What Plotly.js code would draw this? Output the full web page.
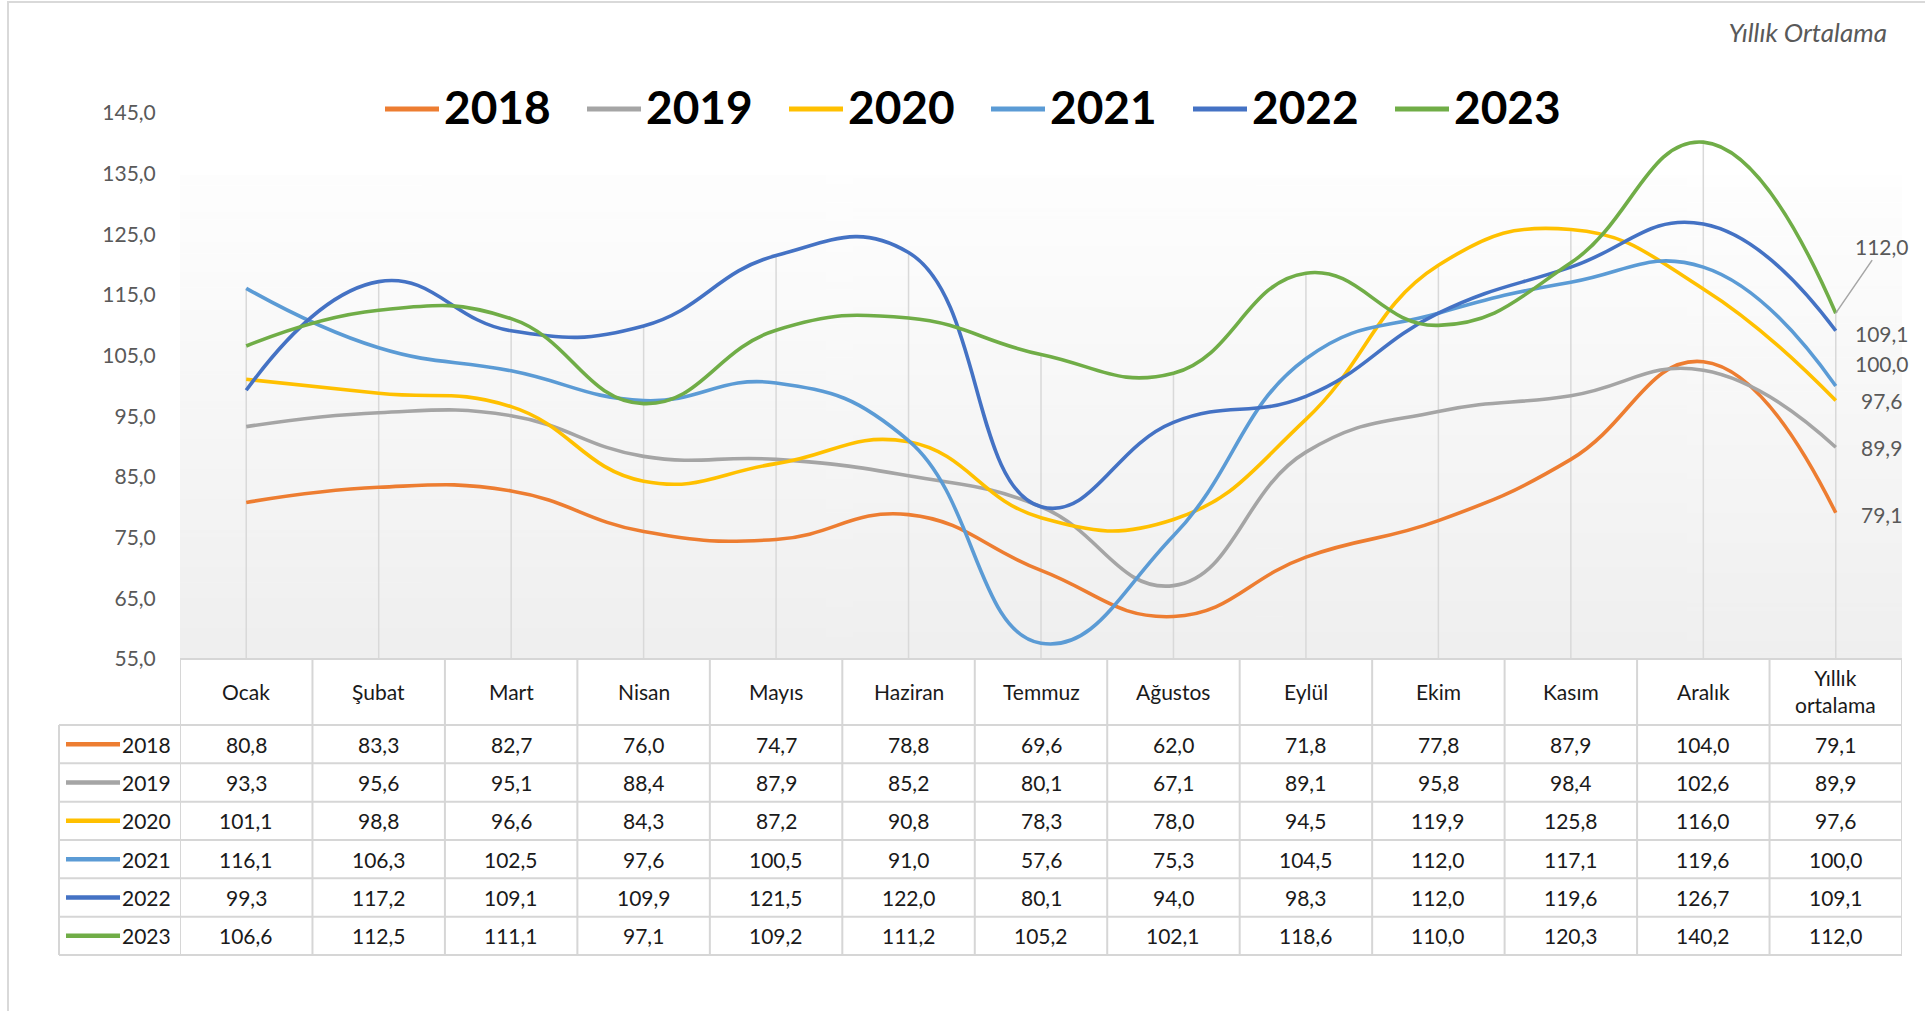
<!DOCTYPE html>
<html>
<head>
<meta charset="utf-8">
<script src="https://cdn.plot.ly/plotly-3.0.1.min.js"></script>
<style>
  html, body { margin: 0; padding: 0; background: #ffffff; }
  #chart { width: 1925px; height: 1011px; }
</style>
</head>
<body>
<div id="chart"></div>
<script>
// ---------------- DATA ----------------
const categories = ['Ocak', 'Şubat', 'Mart', 'Nisan', 'Mayıs', 'Haziran', 'Temmuz', 'Ağustos', 'Eylül', 'Ekim', 'Kasım', 'Aralık', 'Yıllık ortalama'];
const years = ['2018', '2019', '2020', '2021', '2022', '2023'];
const v2018 = [80.8, 83.3, 82.7, 76.0, 74.7, 78.8, 69.6, 62.0, 71.8, 77.8, 87.9, 104.0, 79.1];
const v2019 = [93.3, 95.6, 95.1, 88.4, 87.9, 85.2, 80.1, 67.1, 89.1, 95.8, 98.4, 102.6, 89.9];
const v2020 = [101.1, 98.8, 96.6, 84.3, 87.2, 90.8, 78.3, 78.0, 94.5, 119.9, 125.8, 116.0, 97.6];
const v2021 = [116.1, 106.3, 102.5, 97.6, 100.5, 91.0, 57.6, 75.3, 104.5, 112.0, 117.1, 119.6, 100.0];
const v2022 = [99.3, 117.2, 109.1, 109.9, 121.5, 122.0, 80.1, 94.0, 98.3, 112.0, 119.6, 126.7, 109.1];
const v2023 = [106.6, 112.5, 111.1, 97.1, 109.2, 111.2, 105.2, 102.1, 118.6, 110.0, 120.3, 140.2, 112.0];
const yTickValues = [55, 65, 75, 85, 95, 105, 115, 125, 135, 145];
const chartTitle = 'Yıllık Ortalama';

const series = [v2018, v2019, v2020, v2021, v2022, v2023];

// ---------------- STYLE / LAYOUT CONSTANTS ----------------
const colors = ['#ED7D31', '#A5A5A5', '#FFC000', '#5B9BD5', '#4472C4', '#70AD47'];
const FONT = 'Lato, "Open Sans", "Noto Sans", sans-serif';
const W = 1925, H = 1011;
const plotL = 180, plotR = 1902, plotT = 113, plotB = 659;
const tableB = 955, headerB = 725;
const rowH = (tableB - headerB) / years.length;
const gridColor = '#d9d9d9';
const tableLine = '#d6d6d6';

const px = x => (x - plotL) / (plotR - plotL);
const py = y => (tableB - y) / (tableB - plotT);
const fmt = v => v.toFixed(1).replace('.', ',');

// label offsets for last-point data labels (pixels): [xshift, yshift]
const lastLabelShift = [[46, -2], [46, 0], [46, 0], [46, 23], [46, -3], [46, 0]];

// ---------------- gradient background ----------------
const cv = document.createElement('canvas');
cv.width = 4; cv.height = 256;
const ctx = cv.getContext('2d');
const g = ctx.createLinearGradient(0, 0, 0, 256);
g.addColorStop(0, '#fefefe');
g.addColorStop(1, '#efefef');
ctx.fillStyle = g;
ctx.fillRect(0, 0, 4, 256);
const gradURL = cv.toDataURL('image/png');

// ---------------- traces ----------------
const traces = series.map((vals, i) => ({
  type: 'scatter',
  mode: 'lines',
  name: years[i],
  x: categories,
  y: vals,
  line: { color: colors[i], width: 3.6, shape: 'spline', smoothing: 1.3 },
  hoverinfo: 'x+y+name',
  showlegend: false
}));

const shapes = [];
const annotations = [];

// drop lines from highest value down to axis
categories.forEach((c, i) => {
  const top = Math.max(...series.map(s => s[i]));
  shapes.push({
    type: 'line', xref: 'x', yref: 'y', x0: i, x1: i, y0: yTickValues[0], y1: top,
    line: { color: gridColor, width: 1.5 }, layer: 'below'
  });
});

// outer chart border
shapes.push({
  type: 'rect', xref: 'paper', yref: 'paper',
  x0: px(8), x1: px(W + 20), y0: py(2), y1: py(H + 20),
  line: { color: '#d9d9d9', width: 2 }, fillcolor: 'rgba(0,0,0,0)'
});

// ---------- data table ----------
const lineStyle = { color: tableLine, width: 2 };
shapes.push({ type: 'line', xref: 'paper', yref: 'paper', x0: 0, x1: 1, y0: py(plotB), y1: py(plotB), line: lineStyle });
for (let k = 0; k <= years.length; k++) {
  const yy = py(headerB + k * rowH);
  shapes.push({ type: 'line', xref: 'paper', yref: 'paper', x0: px(59), x1: 1, y0: yy, y1: yy, line: lineStyle });
}
for (let j = 0; j <= categories.length; j++) {
  shapes.push({ type: 'line', xref: 'x', yref: 'paper', x0: j - 0.5, x1: j - 0.5, y0: py(plotB), y1: 0, line: lineStyle });
}
shapes.push({ type: 'line', xref: 'paper', yref: 'paper', x0: px(59), x1: px(59), y0: py(headerB), y1: 0, line: lineStyle });

// header labels
categories.forEach((c, i) => {
  annotations.push({
    xref: 'x', yref: 'paper', x: i, y: py((plotB + headerB) / 2 - 1),
    text: c.replace(' ', '<br>'), showarrow: false,
    xanchor: 'center', yanchor: 'middle',
    font: { family: FONT, size: 21, color: '#1a1a1a' }
  });
});

// rows
years.forEach((yr, r) => {
  const yc = py(headerB + (r + 0.5) * rowH);
  shapes.push({
    type: 'line', xref: 'paper', yref: 'paper', x0: px(66), x1: px(120), y0: yc, y1: yc,
    line: { color: colors[r], width: 4.5 }
  });
  annotations.push({
    xref: 'paper', yref: 'paper', x: px(173), y: yc, text: yr, showarrow: false,
    xanchor: 'right', yanchor: 'middle',
    font: { family: FONT, size: 21, color: '#1a1a1a' }
  });
  series[r].forEach((v, i) => {
    annotations.push({
      xref: 'x', yref: 'paper', x: i, y: yc, text: fmt(v), showarrow: false,
      xanchor: 'center', yanchor: 'middle',
      font: { family: FONT, size: 21, color: '#1a1a1a' }
    });
  });
});

// ---------- top legend (manual) ----------
years.forEach((yr, i) => {
  const x0 = 385 + 202 * i;
  shapes.push({
    type: 'line', xref: 'paper', yref: 'paper', x0: px(x0), x1: px(x0 + 54), y0: py(109), y1: py(109),
    line: { color: colors[i], width: 5 }
  });
  annotations.push({
    xref: 'paper', yref: 'paper', x: px(x0 + 57), y: py(107), text: '<b>' + yr + '</b>',
    showarrow: false, xanchor: 'left', yanchor: 'middle',
    font: { family: FONT, size: 46, color: '#000000', weight: 'bold' }
  });
});

// ---------- data labels on last point ----------
const last = categories.length - 1;
series.forEach((vals, i) => {
  const v = vals[last];
  if (i === 5) {
    annotations.push({
      xref: 'x', yref: 'y', x: last, y: v, text: fmt(v),
      showarrow: true, arrowhead: 0, arrowwidth: 1.5, arrowcolor: '#a6a6a6',
      ax: 46, ay: -67, standoff: 0,
      font: { family: FONT, size: 21, color: '#595959' }
    });
  } else {
    annotations.push({
      xref: 'x', yref: 'y', x: last, y: v, text: fmt(v), showarrow: false,
      xshift: lastLabelShift[i][0], yshift: lastLabelShift[i][1],
      xanchor: 'center', yanchor: 'middle',
      font: { family: FONT, size: 21, color: '#595959' }
    });
  }
});

const layout = {
  width: W, height: H,
  margin: { l: plotL, r: W - plotR, t: plotT, b: H - tableB, pad: 0 },
  paper_bgcolor: '#ffffff',
  plot_bgcolor: 'rgba(0,0,0,0)',
  separators: ',.',
  showlegend: false,
  title: {
    text: '<i>' + chartTitle + '</i>',
    xref: 'container', yref: 'container',
    x: 1887 / W, xanchor: 'right', y: 1 - 33 / H, yanchor: 'middle',
    font: { family: FONT, size: 26, color: '#595959', style: 'italic' }
  },
  xaxis: {
    type: 'category', range: [-0.5, categories.length - 0.5],
    showgrid: false, zeroline: false, showline: false, showticklabels: false, ticks: '',
    fixedrange: true
  },
  yaxis: {
    domain: [py(plotB), 1], range: [yTickValues[0], yTickValues[yTickValues.length - 1]],
    tickvals: yTickValues, tickformat: '.1f',
    showgrid: false, zeroline: false, showline: false,
    ticks: 'outside', ticklen: 19, tickcolor: 'rgba(0,0,0,0)',
    tickfont: { family: FONT, size: 21, color: '#595959' },
    fixedrange: true
  },
  images: [{
    source: gradURL, xref: 'paper', yref: 'paper',
    x: 0, y: py(175), sizex: 1, sizey: py(175) - py(plotB),
    xanchor: 'left', yanchor: 'top', sizing: 'stretch', layer: 'below'
  }],
  shapes: shapes,
  annotations: annotations
};

Plotly.newPlot('chart', traces, layout, { displayModeBar: false, staticPlot: true });
</script>
</body>
</html>
